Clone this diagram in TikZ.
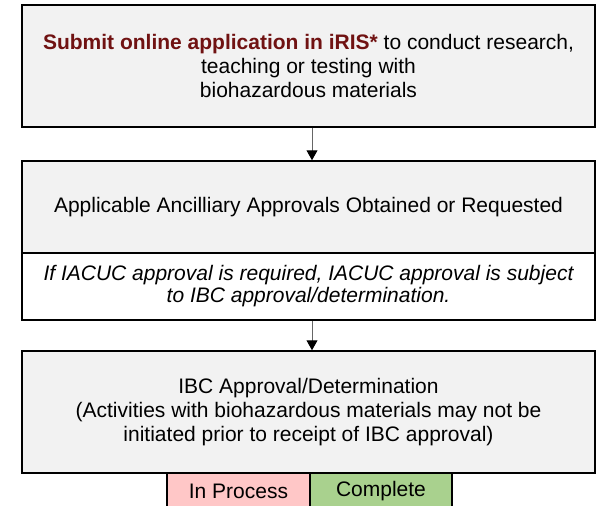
\documentclass[tikz,border=0pt]{standalone}
\usepackage{fontspec}
\setmainfont{Liberation Sans}
\usetikzlibrary{arrows.meta}
\definecolor{irisred}{RGB}{112,18,18}
\definecolor{boxgray}{RGB}{242,242,242}
\definecolor{keypink}{RGB}{255,199,199}
\definecolor{keygreen}{RGB}{169,209,142}
\begin{document}
\begin{tikzpicture}[x=1pt,y=-1pt,>={Triangle[width=11pt,length=10pt,black]},
		stepbox/.style={draw=black,line width=1.5pt,fill=boxgray,minimum width=573pt,inner sep=0pt,align=center,font=\fontsize{21}{24}\selectfont},
		notebox/.style={stepbox,fill=white,font=\fontsize{21}{22}\selectfont\itshape},
		keybox/.style={draw=black,line width=1.5pt,minimum width=143pt,minimum height=36pt,inner sep=0pt,font=\fontsize{21}{24}\selectfont},
		flow/.style={->,draw=black!60,line width=1pt}]
		\useasboundingbox (0,0) rectangle (598,506);
		\clip (0,0) rectangle (598,506);
		\node[stepbox,minimum height=122pt] (submit) at (308.5,66) {\textcolor{irisred}{\bfseries Submit online application in iRIS*} to conduct research,\\teaching or testing with\\biohazardous materials};
		\node[stepbox,minimum height=92pt] (ancillary) at (308.5,207) {Applicable Ancilliary Approvals Obtained or Requested};
		\node[notebox,minimum height=67pt] (iacuc) at (308.5,286.5) {If IACUC approval is required, IACUC approval is subject\\to IBC approval/determination.};
		\node[stepbox,minimum height=122pt] (ibc) at (308.5,412) {IBC Approval/Determination\\(Activities with biohazardous materials may not be\\initiated prior to receipt of IBC approval)};
		\node[keybox,fill=keypink] (inprocess) at (238.5,491) {In Process};
		\node[keybox,fill=keygreen,minimum width=142pt] (complete) at (381,491) {Complete};
		\draw[flow] ([xshift=3.5pt]submit.south) -- ([xshift=3.5pt]ancillary.north);
		\draw[flow] ([xshift=3.5pt]iacuc.south) -- ([xshift=3.5pt]ibc.north);
	\end{tikzpicture}
\end{document}
